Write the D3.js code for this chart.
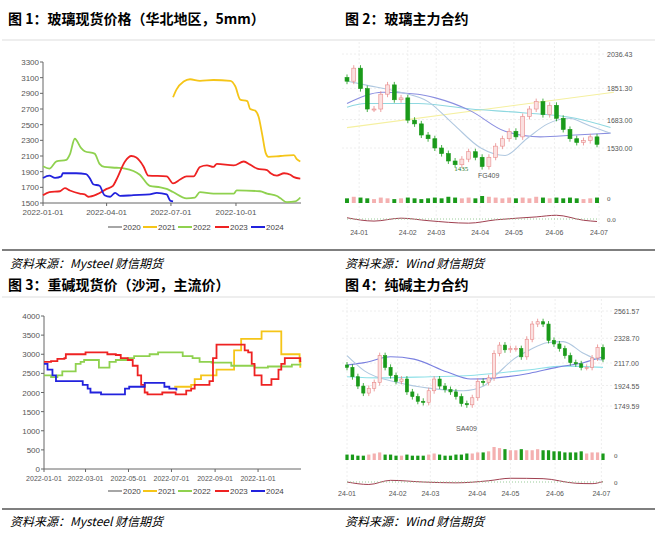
<!DOCTYPE html>
<html><head><meta charset="utf-8">
<script src="https://cdn.jsdelivr.net/npm/d3@7"></script>
<style>body{margin:0;background:#fff}svg{display:block}</style></head>
<body><svg id="c" width="657" height="546"></svg>
<script>
// ---------- DATA ----------
const years = ["2020","2021","2022","2023","2024"];
const yearColors = ["#a6a6a6","#f5c518","#8fd14f","#ee2222","#2222dd"];
const glassDays = {
 "2021":[184,189,199,208,222,241,265,272,279,289,293,300,305,310,315,319,336,355,359,364],
 "2022":[0,9,19,33,38,45,54,59,73,80,87,104,116,137,151,166,175,184,203,215,222,241,270,274,307,317,331,336,345,357,364],
 "2023":[0,9,24,31,38,52,59,64,76,90,99,104,116,125,132,142,149,175,184,194,203,213,222,232,241,246,270,284,293,303,317,322,331,341,350,355,364],
 "2024":[0,9,17,26,28,47,61,66,71,80,87,95,102,109,128,151,161,175,180,184]};
const glassVals = {
 "2021":[2850,2950,3050,3080,3060,3070,3060,2990,2820,2800,2700,2680,2600,2380,2140,2090,2100,2110,2060,2030],
 "2022":[1970,1940,2030,2050,2120,2320,2200,2160,2130,2000,1960,1950,1940,1860,1720,1700,1680,1640,1560,1570,1640,1620,1620,1660,1650,1620,1590,1560,1510,1520,1570],
 "2023":[1600,1640,1650,1690,1660,1620,1610,1580,1610,1680,1720,1800,2030,2100,2080,1970,1850,1840,1750,1800,1840,1840,1960,1980,1960,2000,1980,2030,1990,1940,1920,1880,1850,1880,1860,1830,1810],
 "2024":[1820,1850,1820,1840,1880,1880,1870,1820,1740,1720,1600,1580,1630,1590,1600,1610,1630,1610,1530,1520]};
const glassTicks = [1500,1700,1900,2100,2300,2500,2700,2900,3100,3300];
const glassDateTicks = [[0,"2022-01-01"],[90,"2022-04-01"],[181,"2022-07-01"],[273,"2022-10-01"]];
const sodaDays = {
 "2021":[185,204,209,214,223,242,245,266,270,280,306,309,336,337,359,363,364],
 "2022":[0,10,19,26,40,45,52,57,76,78,90,93,102,119,128,147,150,162,190,197,211,221,238,261,266,290,299,314,318,347,352,364],
 "2023":[0,10,19,29,31,57,59,85,90,102,109,119,126,133,138,143,147,166,168,185,187,197,202,209,214,228,235,240,245,280,285,290,295,299,306,309,318,323,333,337,342,361,364],
 "2024":[0,5,12,17,50,55,62,66,78,81,109,115,121,140,143,162,171,178,188]};
const sodaVals = {
 "2021":[2150,2150,2200,2350,2450,2450,2600,2600,3100,3400,3400,3600,3600,3000,3000,2800,2650],
 "2022":[2450,2400,2450,2550,2550,2750,2800,2850,2850,2650,2650,2800,2850,2900,2950,2950,3000,3050,3050,2950,2900,2800,2780,2780,2700,2700,2650,2650,2680,2680,2730,2750],
 "2023":[2800,2820,2880,2900,3000,3000,3050,3050,3000,2980,2900,2850,2700,2450,2200,2000,1950,1950,2000,2000,1950,1950,2050,2100,2200,2200,2300,2900,3250,3250,3100,3050,2750,2450,2450,2200,2200,2350,2600,2750,2900,2900,2800],
 "2024":[2750,2600,2450,2300,2300,2200,2100,2000,2000,1950,1950,2100,2150,2150,2250,2250,2150,2100,2050]};
const sodaTicks = [0,500,1000,1500,2000,2500,3000,3500,4000];
const sodaDateTicks = [[0,"2022-01-01"],[59,"2022-03-01"],[120,"2022-05-01"],[181,"2022-07-01"],[243,"2022-09-01"],[304,"2022-11-01"]];
const fgClose = [1890,1960,1850,1740,1740,1820,1870,1790,1800,1680,1660,1600,1580,1530,1500,1460,1440,1470,1510,1480,1430,1480,1540,1580,1620,1590,1700,1740,1780,1710,1760,1690,1630,1580,1560,1570,1590,1550];
const fgVol = [6,8,7,6,5,7,6,5,6,7,6,5,6,7,6,8,7,6,7,6,9,8,7,6,7,6,7,6,8,7,6,7,6,7,6,5,6,7];
const fgMonths = [[1.8,"24-01"],[9,"24-02"],[13.2,"24-03"],[19.7,"24-04"],[24.7,"24-05"],[30.7,"24-06"],[37.3,"24-07"]];
const fgTicks = [1530.00,1683.00,1851.30,2036.43];
const fgMA = [
 {c:"#f5f0a0",p:[[0,1640],[39.5,1830]]},
 {c:"#8ed8e0",p:[[0,1750],[2.7,1770],[10.5,1770],[18.3,1740],[26,1720],[33.8,1690],[39,1640]]},
 {c:"#8a8ee0",p:[[0,1770],[5.3,1830],[10.5,1820],[13.1,1800],[18.3,1730],[23.4,1620],[28.6,1590],[33.8,1600],[39,1610]]},
 {c:"#b0c8e0",p:[[0,1890],[2.7,1870],[7.9,1830],[12,1780],[15.7,1660],[19.8,1530],[23.4,1490],[26.6,1580],[29.7,1660],[32.8,1690],[35.9,1650],[39,1610]]}];
const fgMacd = [[0,0.3],[4,-0.5],[8,0.2],[12,-0.4],[18,-1],[22,-0.2],[28,0.5],[31,0.9],[35,-0.3],[37,-0.6]];
const saClose = [2080,2000,1920,1860,1900,1950,2180,2080,2010,1960,1980,1870,1830,1790,1780,1880,1980,1920,1890,1870,1830,1770,1760,1820,1960,1950,1990,2200,2270,2230,2240,2240,2170,2320,2450,2470,2450,2310,2280,2240,2180,2120,2110,2080,2080,2160,2250,2150];
const saVol = [5,5,4,4,5,6,7,5,5,4,4,5,4,4,4,5,6,5,4,4,5,5,6,6,7,7,8,12,11,10,9,9,10,9,9,10,9,9,8,8,7,7,7,8,6,7,7,6];
const saMonths = [[0,"24-01"],[9.3,"24-02"],[15.3,"24-03"],[23.9,"24-04"],[30,"24-05"],[38.2,"24-06"],[46.7,"24-07"]];
const saTicks = [1749.59,1924.55,2117.00,2328.70,2561.57];
const saMA = [
 {c:"#8ee0e8",p:[[0,2000],[6.2,1990],[15.3,2000],[22.7,2010],[27.5,2030],[33.6,2060],[39.7,2090],[47,2080]]},
 {c:"#7a80e0",p:[[0,2100],[3.2,2120],[8,2170],[12.3,2150],[18.4,2040],[22.7,1980],[27.5,1990],[33.6,2030],[38.5,2080],[43.4,2120],[47,2170]]},
 {c:"#b0c8e0",p:[[0,2180],[3.2,2050],[9.3,1950],[15.3,1900],[21.4,1880],[25.1,1920],[27.5,2020],[30.6,2150],[33.6,2230],[36.7,2290],[39.7,2300],[43.4,2200],[45.8,2150],[47,2140]]}];
const saMacd = [[0,0],[4,-0.6],[8,0.4],[14,0],[20,-0.2],[26,0.3],[30,0.9],[36,0.8],[42,-0.3],[45,-0.4],[47,0.1]];

// ---------- DRAW ----------
const svg = d3.select("#c");
const CJK = "'Noto Sans CJK SC','Noto Sans',sans-serif";
function txt(x,y,s,o={}){return svg.append("text").attr("x",x).attr("y",y).text(s)
  .attr("font-family",o.f||CJK).attr("font-size",o.s||11).attr("fill",o.c||"#000")
  .attr("font-weight",o.w||"normal").attr("font-style",o.i||"normal").attr("text-anchor",o.a||"start");}
[40,297].forEach(y=>svg.append("line").attr("x1",2).attr("x2",655).attr("y1",y).attr("y2",y).attr("stroke","#ddd"));
[250,509].forEach(y=>svg.append("line").attr("x1",2).attr("x2",655).attr("y1",y).attr("y2",y).attr("stroke","#000").attr("stroke-width",1.2));
txt(8,24,"图 1：玻璃现货价格（华北地区，5mm）",{s:14,w:"bold"});
txt(345,24,"图 2：玻璃主力合约",{s:14,w:"bold"});
txt(8,290,"图 3：重碱现货价（沙河，主流价）",{s:14,w:"bold"});
txt(345,290,"图 4：纯碱主力合约",{s:14,w:"bold"});
[[10,268],[345,268],[10,526],[345,526]].forEach(([x,y],i)=>txt(x,y,i%2? "资料来源：Wind 财信期货":"资料来源：Mysteel 财信期货",{s:12,i:"italic"}));

function spotChart(days,vals,ticks,dticks,x0,x1,y0,y1,ymin,ymax,legY,curve,dfs){
  const x=d3.scaleLinear().domain([0,365]).range([x0,x1]);
  const y=d3.scaleLinear().domain([ymin,ymax]).range([y1,y0]);
  const g=svg.append("g");
  g.append("line").attr("x1",x0).attr("x2",x0).attr("y1",y0).attr("y2",y1).attr("stroke","#666");
  g.append("line").attr("x1",x0).attr("x2",x1).attr("y1",y1).attr("y2",y1).attr("stroke","#666");
  ticks.forEach(t=>{g.append("text").attr("x",x0-4).attr("y",y(t)+3).attr("text-anchor","end").attr("font-size",8).attr("fill","#555").attr("font-family","Liberation Sans").text(t);
    g.append("line").attr("x1",x0-3).attr("x2",x0).attr("y1",y(t)).attr("y2",y(t)).attr("stroke","#666");});
  dticks.forEach(([d,s])=>{g.append("text").attr("x",x(d)).attr("y",y1+12).attr("text-anchor","middle").attr("font-size",dfs).attr("fill","#555").attr("font-family","Liberation Sans").text(s);
    g.append("line").attr("x1",x(d)).attr("x2",x(d)).attr("y1",y1).attr("y2",y1+3).attr("stroke","#666");});
  const line=d3.line().x(d=>x(d[0])).y(d=>y(d[1])).curve(curve);
  years.forEach((yr,i)=>{ if(!days[yr]) return;
    g.append("path").attr("d",line(days[yr].map((d,j)=>[d,vals[yr][j]]))).attr("fill","none").attr("stroke",yearColors[i]).attr("stroke-width",1.8);});
  const lx=[108,143,178,215,251];
  years.forEach((yr,i)=>{g.append("line").attr("x1",lx[i]).attr("x2",lx[i]+14).attr("y1",legY).attr("y2",legY).attr("stroke",yearColors[i]).attr("stroke-width",2);
    g.append("text").attr("x",lx[i]+15).attr("y",legY+3).attr("font-size",8).attr("fill","#444").attr("font-family","Liberation Sans").text(yr);});
}
spotChart(glassDays,glassVals,glassTicks,glassDateTicks,43,301,62,203,1500,3300,227,d3.curveMonotoneX,8);
spotChart(sodaDays,sodaVals,sodaTicks,sodaDateTicks,44,301,316,469,0,4000,491,d3.curveStepAfter,7);

function kChart(close,vol,months,ticks,ma,macd,o){
  const n=close.length;
  const x=d3.scaleLinear().domain([0,n-1]).range([o.x0,o.x1]);
  const y=d3.scaleLinear().domain([ticks[0],ticks[ticks.length-1]]).range([o.yb,o.yt]);
  const g=svg.append("g");
  const bw=(o.x1-o.x0)/n*0.6;
  months.forEach(([i,s])=>{g.append("line").attr("x1",x(i)).attr("x2",x(i)).attr("y1",o.yt-12).attr("y2",o.macdY+8).attr("stroke","#eee").attr("stroke-dasharray","2,2");
    g.append("text").attr("x",x(i)).attr("y",o.dateY).attr("text-anchor","middle").attr("font-size",7).attr("fill","#555").attr("font-family","Liberation Sans").text(s);});
  ticks.forEach(t=>{g.append("line").attr("x1",o.x0-5).attr("x2",o.x1+12).attr("y1",y(t)).attr("y2",y(t)).attr("stroke","#eee").attr("stroke-dasharray","2,2");
    g.append("text").attr("x",o.lx).attr("y",y(t)+3).attr("font-size",7).attr("fill","#555").attr("font-family","Liberation Sans").text(t.toFixed(2));});
  const ml=d3.line().x(d=>x(d[0])).y(d=>y(d[1])).curve(d3.curveMonotoneX);
  ma.forEach(m=>g.append("path").attr("d",ml(m.p)).attr("fill","none").attr("stroke",m.c).attr("stroke-width",1.1));
  const vh=d3.scaleLinear().domain([0,d3.max(vol)]).range([0,o.volH]);
  close.forEach((c,i)=>{const op=i?close[i-1]:c+20; const up=c>=op; const col=up?"#e88a8a":"#1a9a1a";
    g.append("line").attr("x1",x(i)).attr("x2",x(i)).attr("y1",y(Math.max(c,op))-3).attr("y2",y(Math.min(c,op))+3).attr("stroke",col).attr("stroke-width",0.8);
    g.append("rect").attr("x",x(i)-bw/2).attr("width",bw).attr("y",y(Math.max(c,op))).attr("height",Math.max(1,Math.abs(y(c)-y(op)))).attr("fill",up?"#fbe0e0":col).attr("stroke",col).attr("stroke-width",0.6);
    g.append("rect").attr("x",x(i)-bw/2).attr("width",bw).attr("y",o.volB-vh(vol[i])).attr("height",vh(vol[i])).attr("fill",up?"#f4b0b0":"#1a9a1a");});
  g.append("text").attr("x",o.lx).attr("y",o.volB-2).attr("font-size",7).attr("fill","#555").text("0");
  const my=d3.scaleLinear().domain([-1.2,1.2]).range([o.macdY+5,o.macdY-5]);
  g.append("path").attr("d",d3.line().x(d=>x(d[0])).y(d=>my(d[1])).curve(d3.curveMonotoneX)(macd)).attr("fill","none").attr("stroke","#a04050").attr("stroke-width",1);
  g.append("line").attr("x1",o.x0).attr("x2",o.x1).attr("y1",my(0)).attr("y2",my(0)).attr("stroke","#9c9").attr("stroke-dasharray","1,2");
  g.append("text").attr("x",o.lx).attr("y",my(0)+3).attr("font-size",7).attr("fill","#555").text(o.macdLbl);
  g.append("text").attr("x",o.nameX).attr("y",o.nameY).attr("font-size",7).attr("fill","#555").attr("font-family","Liberation Sans").text(o.name);
  return {x,y,g};
}
const fg=kChart(fgClose,fgVol,fgMonths,fgTicks,fgMA,fgMacd,{x0:347,x1:597,yt:54,yb:148,lx:607,dateY:235,volB:203,volH:7,macdY:219,macdLbl:"0.0",name:"FG409",nameX:478,nameY:178});
fg.g.append("text").attr("x",fg.x(20)-28).attr("y",fg.y(1435)+5).attr("font-size",7).attr("fill","#2a7a2a").text("1435");
kChart(saClose,saVol,saMonths,saTicks,saMA,saMacd,{x0:347,x1:603,yt:311,yb:406,lx:614,dateY:496,volB:460,volH:13,macdY:482,macdLbl:"0",name:"SA409",nameX:456,nameY:431});
</script></body></html>
